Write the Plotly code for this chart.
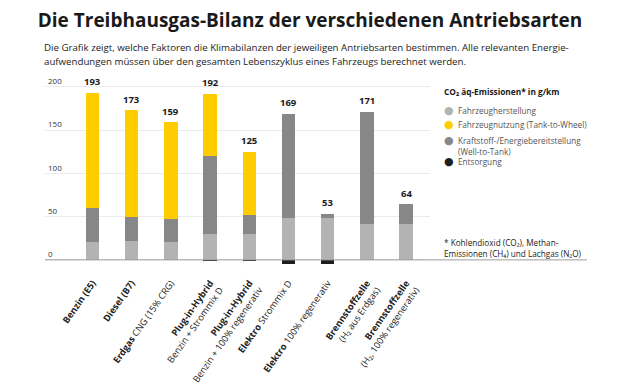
import plotly.graph_objects as go

categories = [
    "<b>Benzin (E5)</b>",
    "<b>Diesel (B7)</b>",
    "<b>Erdgas</b> CNG (15% CRG)",
    "<b>Plug-in-Hybrid</b><br>Benzin + Strommix D",
    "<b>Plug-in-Hybrid</b><br>Benzin + 100% regenerativ",
    "<b>Elektro</b> Strommix D",
    "<b>Elektro</b> 100% regenerativ",
    "<b>Brennstoffzelle</b><br>(H₂ aus Erdgas)",
    "<b>Brennstoffzelle</b><br>(H₂, 100% regenerativ)",
]
herstellung = [21, 22, 21, 30, 30, 48, 48, 41, 41]
bereitstellung = [39, 27, 26, 90, 22, 121, 5, 130, 23]
nutzung = [133, 124, 112, 72, 73, 0, 0, 0, 0]
entsorgung = [0, 0, 0, -1.5, -1.5, -4.5, -4.5, 0, 0]
totals = [193, 173, 159, 192, 125, 169, 53, 171, 64]
y_ticks = [0, 50, 100, 150, 200]

C_HERST = "#b3b3b3"
C_NUTZ = "#ffcc00"
C_BEREIT = "#878787"
C_ENTS = "#1e1e1e"

FONT = "Open Sans"
W, H = 620, 385
ML, MR, MT, MB = 45, 0, 72, 113
PW = W - ML - MR
PH = H - MT - MB


def px_x(p):
    return (p - ML) / PW


def px_y(p):
    return (H - MB - p) / PH


xs = list(range(len(categories)))
fig = go.Figure()
bw = 0.345
for name, vals, col in [
    ("Fahrzeugherstellung", herstellung, C_HERST),
    ("Kraftstoff-/Energiebereitstellung (Well-to-Tank)", bereitstellung, C_BEREIT),
    ("Fahrzeugnutzung (Tank-to-Wheel)", nutzung, C_NUTZ),
    ("Entsorgung", entsorgung, C_ENTS),
]:
    fig.add_trace(go.Bar(x=xs, y=vals, name=name, width=bw,
                         marker=dict(color=col, line=dict(width=0)),
                         showlegend=False, hoverinfo="skip"))

annotations = []
for x, t in zip(xs, totals):
    annotations.append(dict(x=x, y=t, xref="x", yref="y", text=f"<b>{t}</b>",
                            showarrow=False, yshift=11,
                            font=dict(family=FONT, size=9.5, color="#1a1a1a")))


def note(xp, yp, text, size, color, anchor="left", family=FONT):
    annotations.append(dict(xref="paper", yref="paper", x=px_x(xp), y=px_y(yp),
                            xanchor=anchor, yanchor="middle", showarrow=False,
                            text=text, borderpad=0,
                            font=dict(family=family, size=size, color=color)))


# subtitle
note(43, 47, "Die Grafik zeigt, welche Faktoren die Klimabilanzen der jeweiligen Antriebsarten bestimmen. Alle relevanten Energie-", 9.7, "#222")
note(43, 62, "aufwendungen müssen über den gesamten Lebenszyklus eines Fahrzeugs berechnet werden.", 9.7, "#222")

# legend
note(443, 91.5, "<b>CO₂ äq-Emissionen* in g/km</b>", 8.3, "#1a1a1a")
legend_items = [
    ("Fahrzeugherstellung", C_HERST, 110.7),
    ("Fahrzeugnutzung (Tank-to-Wheel)", C_NUTZ, 124.3),
    ("Kraftstoff-/Energiebereitstellung", C_BEREIT, 140),
    ("Entsorgung", C_ENTS, 161.5),
]
for txt, col, yy in legend_items:
    note(449, yy, "●", 11, col, anchor="center", family="DejaVu Sans")
    note(457, yy, txt, 8.2, "#555")
note(457, 151.5, "(Well-to-Tank)", 8.2, "#555")

# footnote
note(443, 242, "* Kohlendioxid (CO₂), Methan-", 8.2, "#222")
note(443, 253, "Emissionen (CH₄) und Lachgas (N₂O)", 8.2, "#222")

fig.update_layout(
    width=W, height=H,
    margin=dict(l=ML, r=MR, t=MT, b=MB, pad=0, autoexpand=False),
    paper_bgcolor="white", plot_bgcolor="white",
    barmode="relative", bargap=0, hovermode=False,
    title=dict(text="<b>Die Treibhausgas-Bilanz der verschiedenen Antriebsarten</b>",
               x=0.5, xanchor="center", xref="container",
               y=1 - 20 / H, yanchor="middle", yref="container", automargin=False,
               font=dict(family=FONT, size=19, color="#1a1a1a")),
    xaxis=dict(domain=[0, px_x(430)], range=[-1.21, 8.61], automargin=False,
               tickmode="array", tickvals=xs, ticktext=categories,
               tickangle=-55, showgrid=False, zeroline=False, showline=False,
               ticks="", ticklabelstandoff=3,
               tickfont=dict(family=FONT, size=9.2, color="#222")),
    yaxis=dict(range=[-14, 217], tickmode="array", tickvals=y_ticks, automargin=False,
               ticklabelposition="inside top", showgrid=True, gridcolor="#ebebeb",
               gridwidth=1, zeroline=False, showline=False, ticks="",
               tickfont=dict(family=FONT, size=8, color="#333")),
    annotations=annotations,
    shapes=[dict(type="line", xref="paper", yref="y", x0=0, x1=px_x(587),
                 y0=0, y1=0, line=dict(color="#9c9c9c", width=1), layer="above")],
)

fig.write_html("out.html", config={"displayModeBar": False, "staticPlot": True},
               post_script="document.body.style.margin='0';document.body.style.overflow='hidden';")
